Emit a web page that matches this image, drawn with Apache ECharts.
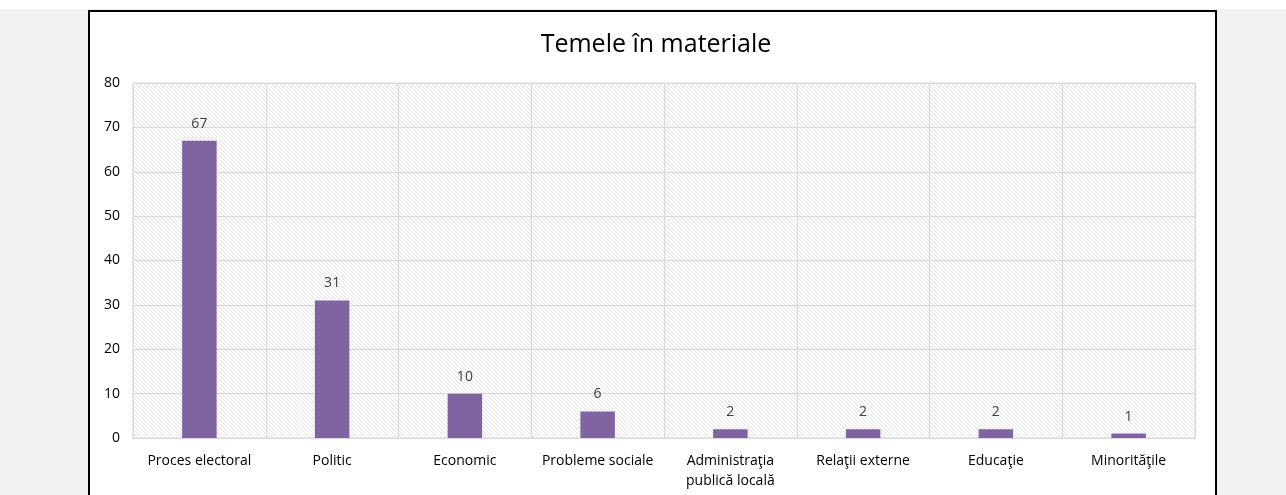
<!DOCTYPE html>
<html>
    <head>
        <meta charset="utf-8">
        <title></title>
        <style>
            body{ margin: 0; background: #ffffff; }
            #bg{ position: absolute; left: 0; top: 9px; width: 1286px; height: 486px; background: #f2f2f2; }
            #box{ position: absolute; left: 88px; top: 10px; width: 1125px; height: 490px; background: #ffffff;
                  border: 2px solid #000000; border-bottom: none; }
            #div{ position: absolute; left: 0; top: 0; width: 1286px; height: 495px; }
        </style>
    </head>
    <body>
        <div id="bg"></div>
        <div id="box"></div>
        <div id="div"></div>
        <script src="https://cdn.jsdelivr.net/npm/echarts@6/dist/echarts.min.js"></script>
        <script>
            var categorii = ['Proces electoral', 'Politic', 'Economic', 'Probleme sociale',
                'Administraţia\npublică locală', 'Relaţii externe', 'Educaţie', 'Minorităţile'];
            var valori = [67, 31, 10, 6, 2, 2, 2, 1];

            // hasura diagonala pentru fundalul graficului
            var pat = document.createElement('canvas');
            pat.width = 8;
            pat.height = 8;
            var ctx = pat.getContext('2d');
            ctx.fillStyle = '#ffffff';
            ctx.fillRect(0, 0, 8, 8);
            ctx.strokeStyle = '#e2e2e2';
            ctx.lineWidth = 1;
            for (var k = -8; k <= 8; k += 4) {
                ctx.beginPath();
                ctx.moveTo(k, 0);
                ctx.lineTo(k + 8, 8);
                ctx.stroke();
            }

            var chartDom = document.getElementById('div');
            var myChart = echarts.init(chartDom);
            var option;

            option = {
                title: {
                    text: 'Temele în materiale',
                    left: 651,
                    textAlign: 'center',
                    top: 27,
                    textStyle: { fontFamily: 'Open Sans', fontSize: 25, fontWeight: 'normal', color: '#000000' }
                },
                grid: {
                    left: 133, right: 91, top: 83, bottom: 57,
                    show: true,
                    backgroundColor: { image: pat, repeat: 'repeat' },
                    borderColor: '#d9d9d9',
                    borderWidth: 1
                },
                xAxis: {
                    type: 'category',
                    data: categorii,
                    axisLine: { lineStyle: { color: '#d9d9d9' } },
                    axisTick: { show: false },
                    splitLine: { show: true, lineStyle: { color: '#d9d9d9', width: 1 } },
                    axisLabel: { color: '#000000', fontFamily: 'Open Sans', fontSize: 14, margin: 13, lineHeight: 20, interval: 0 }
                },
                yAxis: {
                    type: 'value',
                    min: 0,
                    max: 80,
                    interval: 10,
                    axisLine: { show: false },
                    axisTick: { show: false },
                    splitLine: { lineStyle: { color: '#d9d9d9', width: 1 } },
                    axisLabel: { color: '#000000', fontFamily: 'Open Sans', fontSize: 14, margin: 13 }
                },
                series: [
                    {
                        data: valori,
                        type: 'bar',
                        barWidth: '26%',
                        itemStyle: { color: '#8064a2' },
                        label: { show: true, position: 'top', distance: 10, color: '#404040', fontFamily: 'Open Sans', fontSize: 14 }
                    }
                ]
            };

            option && myChart.setOption(option);
        </script>
    </body>
</html>
